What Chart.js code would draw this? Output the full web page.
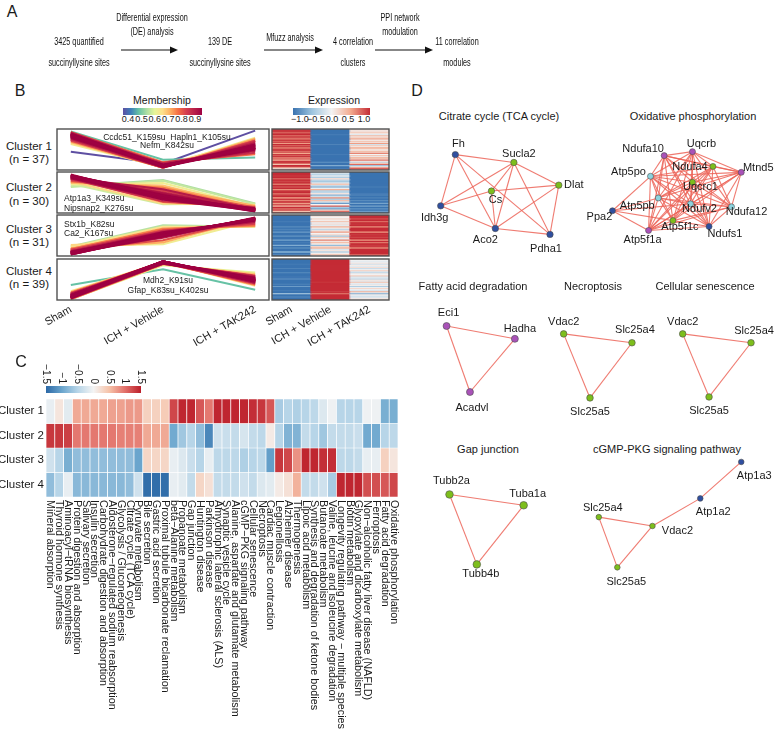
<!DOCTYPE html>
<html>
<head>
<meta charset="utf-8">
<title>Succinyllysine clusters</title>
<script src="https://cdn.jsdelivr.net/npm/chart.js@4.4.1/dist/chart.umd.min.js"></script>
<style>
  body { margin:0; width:780px; height:730px; position:relative; overflow:hidden; background:#fff;
         font-family:"Liberation Sans", Arial, sans-serif; color:#1a1a1a; }
  .t { position:absolute; white-space:nowrap; line-height:1; }
  .ctr { transform:translate(-50%,-50%); }
  .lft { transform:translate(0,-50%); }
  .letter { font-size:16px; }
  .bar { position:absolute; height:7px; }
  canvas { position:absolute; }
</style>
</head>
<body>

<!-- panel A -->
<div class="t ctr letter" style="left:12px;top:12px">A</div>
<canvas id="flow" width="500" height="80" style="left:0;top:0"></canvas>

<!-- panel B -->
<div class="t ctr letter" style="left:20px;top:91px">B</div>
<div class="t ctr" style="left:162px;top:100px;font-size:10.5px">Membership</div>
<div id="memBar" class="bar" style="left:123px;top:108px;width:79px"></div>
<div id="memLabels"></div>
<div class="t ctr" style="left:334px;top:100px;font-size:10.5px">Expression</div>
<div id="exprBar" class="bar" style="left:293px;top:108px;width:77px"></div>
<div id="exprLabels"></div>
<div id="clusterLabels"></div>

<canvas id="line1" width="240" height="45" style="left:40px;top:127px"></canvas>
<canvas id="line2" width="240" height="45" style="left:40px;top:170px"></canvas>
<canvas id="line3" width="240" height="45" style="left:40px;top:213px"></canvas>
<canvas id="line4" width="240" height="103" style="left:40px;top:257px"></canvas>
<canvas id="heat1" width="150" height="45" style="left:250px;top:127px"></canvas>
<canvas id="heat2" width="150" height="45" style="left:250px;top:170px"></canvas>
<canvas id="heat3" width="150" height="45" style="left:250px;top:213px"></canvas>
<canvas id="heat4" width="150" height="103" style="left:250px;top:257px"></canvas>

<div class="t ctr" style="left:167px;top:137px;font-size:8.5px">Ccdc51_K159su&nbsp;&nbsp;Hapln1_K105su</div>
<div class="t ctr" style="left:167px;top:145px;font-size:8.5px">Nefm_K842su</div>
<div class="t lft" style="left:64px;top:198px;font-size:8.5px">Atp1a3_K349su</div>
<div class="t lft" style="left:64px;top:208px;font-size:8.5px">Nipsnap2_K276su</div>
<div class="t lft" style="left:64px;top:224px;font-size:8.5px">Stx1b_K82su</div>
<div class="t lft" style="left:64px;top:232.5px;font-size:8.5px">Ca2_K167su</div>
<div class="t ctr" style="left:168px;top:280px;font-size:8.5px">Mdh2_K91su</div>
<div class="t ctr" style="left:168px;top:289.5px;font-size:8.5px">Gfap_K83su_K402su</div>

<!-- panel C -->
<div class="t ctr letter" style="left:21px;top:362px">C</div>
<canvas id="enrich" width="400" height="370" style="left:0;top:360px"></canvas>

<!-- panel D -->
<div class="t ctr letter" style="left:417px;top:91px">D</div>
<div id="moduleTitles"></div>
<canvas id="ppi" width="380" height="615" style="left:400px;top:85px"></canvas>

<script>
Chart.defaults.font.family = '"Liberation Sans", Arial, sans-serif';
Chart.defaults.color = '#1a1a1a';

// ---- panel A workflow steps
const flowSteps = [['3425 quantified', 'succinyllysine sites'], ['139 DE', 'succinyllysine sites'],
  ['4 correlation', 'clusters'], ['11 correlation', 'modules']];
const flowMethods = [['Differential expression', '(DE) analysis'], ['Mfuzz analysis'], ['PPI network', 'modulation']];

// ---- panel B data: standardized expression per site [Sham, ICH + Vehicle, ICH + TAK242, membership]
const conditions = ['Sham', 'ICH + Vehicle', 'ICH + TAK242'];
const clusterNames = ['Cluster 1', 'Cluster 2', 'Cluster 3', 'Cluster 4'];
const clusterSizes = [37, 30, 31, 39];

const cluster1Sites = [
  [0.95,-1.05,0.10,0.92],[1.00,-1.10,0.10,0.90],[0.80,-1.05,0.25,0.88],[0.90,-1.00,0.10,0.93],
  [1.05,-0.95,-0.10,0.85],[0.70,-1.10,0.40,0.86],[0.95,-1.05,0.10,0.94],[0.85,-1.10,0.25,0.91],
  [0.60,-1.15,0.55,0.80],[1.00,-1.00,0.00,0.89],[0.75,-1.10,0.35,0.87],[0.90,-1.05,0.15,0.95],
  [0.55,-1.10,0.55,0.78],[1.10,-0.90,-0.20,0.82],[0.80,-1.05,0.25,0.90],[0.95,-1.00,0.05,0.92],
  [0.65,-1.15,0.50,0.83],[0.85,-1.05,0.20,0.94],[1.00,-1.05,0.05,0.88],[0.70,-1.10,0.40,0.85],
  [0.90,-1.10,0.20,0.93],[0.50,-1.15,0.65,0.72],[0.95,-0.95,0.00,0.90],[0.80,-1.10,0.30,0.91],
  [1.05,-1.00,-0.05,0.86],[0.60,-1.10,0.50,0.80],[0.85,-1.00,0.15,0.94],[0.45,-1.15,0.70,0.68],
  [0.95,-1.05,0.10,0.89],[1.10,-0.80,-0.30,0.75],[0.75,-1.05,0.30,0.92],[0.35,-1.10,0.75,0.62],
  [1.15,-0.65,-0.50,0.50],[0.90,-1.00,0.10,0.90],[0.40,-1.00,0.60,0.65],[-0.15,-0.90,1.20,0.40],
  [0.80,-0.85,0.05,0.84]
];
const cluster2Sites = [
  [1.10,-0.20,-1.10,0.92],[1.00,-0.35,-1.05,0.90],[0.95,-0.10,-1.15,0.88],[1.15,-0.40,-1.00,0.85],
  [0.80,0.15,-1.10,0.80],[1.05,-0.30,-1.10,0.94],[0.90,-0.45,-1.05,0.89],[1.10,-0.15,-1.20,0.91],
  [0.70,0.30,-1.05,0.74],[1.00,-0.25,-1.15,0.93],[0.85,-0.55,-0.95,0.82],[1.05,-0.05,-1.15,0.87],
  [0.60,0.45,-1.00,0.68],[0.95,-0.35,-1.10,0.90],[1.10,-0.30,-1.20,0.92],[0.75,0.10,-0.95,0.78],
  [0.90,-0.60,-0.90,0.76],[1.00,-0.20,-1.10,0.95],[0.50,0.60,-0.90,0.62],[0.95,-0.40,-1.05,0.88],
  [0.65,0.35,-0.85,0.70],[1.05,-0.20,-1.15,0.91],[0.55,-0.75,-0.70,0.58],[0.85,0.00,-1.05,0.84],
  [0.40,0.80,-0.70,0.55],[1.10,-0.45,-1.15,0.93],[0.70,-0.70,-0.80,0.66],[0.90,0.20,-1.10,0.86],
  [0.35,0.75,-0.75,0.57],[1.00,-0.30,-1.00,0.90]
];
const cluster3Sites = [
  [-1.10,0.10,1.00,0.90],[-1.15,0.00,1.10,0.93],[-1.00,0.20,0.85,0.86],[-1.20,0.05,1.10,0.91],
  [-0.95,0.30,0.75,0.80],[-1.10,-0.05,1.10,0.94],[-1.05,0.15,0.95,0.89],[-1.15,-0.10,1.15,0.88],
  [-0.85,0.45,0.60,0.72],[-1.10,0.05,1.05,0.92],[-0.90,-0.30,1.10,0.78],[-1.20,0.10,1.05,0.90],
  [-0.75,0.55,0.55,0.64],[-1.05,0.00,1.00,0.95],[-1.15,0.15,0.95,0.87],[-0.80,-0.45,1.15,0.70],
  [-1.00,0.25,0.90,0.84],[-1.10,-0.05,1.10,0.93],[-0.70,0.65,0.55,0.56],[-1.05,0.10,1.00,0.91],
  [-0.95,0.35,0.70,0.76],[-1.20,0.05,1.10,0.89],[-0.65,-0.55,0.95,0.62],[-1.10,0.20,0.95,0.90],
  [-0.85,0.40,0.65,0.74],[-1.00,-0.15,1.10,0.85],[-1.15,0.10,1.05,0.92],[-0.60,-0.35,1.00,0.66],
  [-1.05,0.05,1.05,0.88],[-0.90,0.30,0.80,0.80],[-1.10,0.00,1.10,0.94]
];
const cluster4Sites = [
  [-1.10,1.10,0.00,0.90],[-1.15,1.15,-0.10,0.93],[-1.00,1.05,-0.05,0.88],[-1.20,1.10,0.10,0.91],
  [-0.95,1.15,-0.20,0.85],[-1.10,1.05,0.05,0.94],[-1.05,1.15,-0.10,0.89],[-1.15,1.00,0.15,0.86],
  [-0.90,1.10,-0.25,0.80],[-1.10,1.10,-0.05,0.92],[-1.20,1.05,0.20,0.84],[-1.00,1.15,-0.15,0.90],
  [-0.85,1.10,-0.30,0.76],[-1.15,1.10,0.05,0.95],[-1.05,1.05,0.00,0.91],[-1.25,1.00,0.25,0.78],
  [-0.95,1.15,-0.20,0.87],[-1.10,1.10,-0.05,0.93],[-0.80,1.10,-0.35,0.72],[-1.15,1.05,0.10,0.89],
  [-1.00,1.10,-0.10,0.92],[-1.25,0.95,0.35,0.68],[-1.10,1.15,-0.05,0.90],[-0.90,1.05,-0.15,0.85],
  [-1.15,1.10,0.05,0.94],[-0.75,1.10,-0.40,0.65],[-1.05,1.10,-0.05,0.88],[-1.20,1.00,0.20,0.82],
  [-1.10,1.15,-0.05,0.91],[-0.95,1.10,-0.15,0.86],[-1.25,0.90,0.45,0.60],[-1.05,1.15,-0.10,0.93],
  [-0.35,0.65,-0.65,0.50],[-1.10,1.05,0.05,0.90],[-1.00,1.10,-0.10,0.89],[-0.85,1.05,-0.25,0.78],
  [-1.15,1.10,0.00,0.92],[-1.20,1.05,0.15,0.87],[-1.05,1.10,-0.05,0.91]
];
const membershipTicks = [0.4, 0.5, 0.6, 0.7, 0.8, 0.9];
const expressionTicks = [-1, -0.5, 0, 0.5, 1];

// ---- panel C data: KEGG enrichment z-scores per cluster
const pathways = [
  'Mineral absorption', 'Thyroid hormone synthesis', 'Aminoacyl−tRNA biosynthesis',
  'Protein digestion and absorption', 'Salivary secretion', 'Insulin secretion',
  'Carbohydrate digestion and absorption', 'Aldosterone−regulated sodium reabsorption',
  'Glycolysis / Gluconeogenesis', 'Citrate cycle (TCA cycle)', 'Pyruvate metabolism',
  'Bile secretion', 'Gastric acid secretion', 'Proximal tubule bicarbonate reclamation',
  'beta−Alanine metabolism', 'Propanoate metabolism', 'Gap junction', 'Huntington disease',
  'Parkinson disease', 'Amyotrophic lateral sclerosis (ALS)', 'Synaptic vesicle cycle',
  'Alanine, aspartate and glutamate metabolism', 'cGMP−PKG signaling pathway',
  'Cellular senescence', 'Necroptosis', 'Cardiac muscle contraction', 'Legionellosis',
  'Alzheimer disease', 'Thermogenesis', 'Lipoic acid metabolism',
  'Synthesis and degradation of ketone bodies', 'Butanoate metabolism',
  'Valine, leucine and isoleucine degradation', 'Longevity regulating pathway − multiple species',
  'Biotin metabolism', 'Glyoxylate and dicarboxylate metabolism',
  'Non−alcoholic fatty liver disease (NAFLD)', 'Ferroptosis', 'Fatty acid degradation',
  'Oxidative phosphorylation'
];
const enrichCluster1 = [-0.1,0.15,-0.15,0.65,0.65,0.65,0.65,0.7,0.7,0.75,0.75,0.35,0.35,0.4,
  1.25,1.45,1.45,1.15,0.95,1.45,1.45,1.45,1.45,1.4,1.35,1.15,-0.6,-0.5,-0.55,-0.5,-0.45,-0.2,
  -0.05,-0.5,-0.5,-0.5,-0.05,-0.05,-0.9,-0.9];
const enrichCluster2 = [1.35,1.35,1.3,0.95,0.95,0.95,0.95,0.95,0.9,0.9,0.9,0.65,0.65,0.65,
  -0.95,-0.65,-0.5,-0.75,-1.25,-0.3,-0.35,-0.4,-0.25,-0.4,-0.45,0.1,-0.5,-0.85,-0.85,-0.4,-0.5,
  -0.65,-0.4,-0.4,-0.4,-0.35,-0.95,-0.95,-0.5,-0.45];
const enrichCluster3 = [-0.3,-0.5,-0.9,-0.75,-0.75,-0.75,-0.75,-0.75,-0.75,-0.75,-1.0,0.3,0.3,0.3,
  -0.1,-0.2,-0.35,-0.5,-0.1,-0.45,-0.45,-0.45,-0.55,-0.5,-0.45,-1.05,1.35,1.25,0.8,1.45,1.45,1.4,
  1.4,-0.45,-0.45,-0.4,-0.1,-0.1,0.35,0.15];
const enrichCluster4 = [-0.75,-0.5,-0.1,-0.8,-0.8,-0.8,-0.8,-0.8,-0.8,-0.75,-0.3,-1.45,-1.45,-1.45,
  -0.1,-0.15,-0.4,0.3,0.2,-0.4,-0.4,-0.4,-0.3,-0.4,-0.2,-0.15,0.1,0.2,0.6,-0.4,-0.4,-0.3,-0.6,
  1.45,1.45,1.45,1.2,1.2,1.15,1.25];
const enrichTicks = [-1.5, -1, -0.5, 0, 0.5, 1, 1.5];

// ---- panel D data: PPI modules, node [name, layout x, layout y, group]
const tcaNodes = [['Fh',5.2,6.6,'b'],['Sucla2',11.2,7.4,'g'],['Cs',8.9,10.3,'g'],['Dlat',15.8,9.7,'g'],
  ['Idh3g',3.7,11.8,'b'],['Aco2',9.3,14.1,'b'],['Pdha1',14.9,14.7,'b']];
const tcaEdges = [['Fh','Sucla2'],['Fh','Idh3g'],['Fh','Aco2'],['Fh','Pdha1'],['Sucla2','Idh3g'],
  ['Sucla2','Cs'],['Sucla2','Aco2'],['Sucla2','Dlat'],['Sucla2','Pdha1'],['Cs','Idh3g'],['Cs','Dlat'],
  ['Cs','Aco2'],['Idh3g','Aco2'],['Aco2','Dlat'],['Aco2','Pdha1'],['Dlat','Pdha1']];
const oxNodes = [['Uqcrb',29.5,6.3,'p'],['Ndufa10',26.6,6.7,'p'],['Ndufa4',31.6,7.8,'g'],['Mtnd5',34.5,8.4,'p'],
  ['Atp5po',25.2,8.8,'c'],['Uqcrc1',29.5,9.4,'g'],['Atp5pb',26.0,11.0,'c'],['Ndufv2',29.3,11.6,'c'],
  ['Ndufa12',33.5,11.9,'c'],['Ppa2',21.3,12.3,'b'],['Atp5f1c',27.5,13.3,'g'],['Ndufs1',31.2,13.9,'b'],
  ['Atp5f1a',25.0,14.3,'p']];
const oxCore = ['Uqcrb','Ndufa10','Ndufa4','Mtnd5','Atp5po','Uqcrc1','Atp5pb','Ndufv2','Ndufa12','Atp5f1c','Ndufs1','Atp5f1a'];
const oxEdges = [['Ppa2','Atp5po'],['Ppa2','Atp5pb'],['Ppa2','Atp5f1c'],['Ppa2','Atp5f1a'],['Ppa2','Ndufv2']];
oxCore.forEach((a, i) => oxCore.slice(i + 1).forEach(b => oxEdges.push([a, b])));
const fadNodes = [['Eci1',4.3,24.0,'p'],['Hadha',11.3,25.3,'p'],['Acadvl',6.7,30.7,'p']];
const fadEdges = [['Eci1','Hadha'],['Eci1','Acadvl'],['Hadha','Acadvl']];
const necroNodes = [['Vdac2',16.3,24.8,'g'],['Slc25a4',23.3,25.7,'g'],['Slc25a5',19.0,31.3,'g']];
const necroEdges = [['Vdac2','Slc25a4'],['Vdac2','Slc25a5'],['Slc25a4','Slc25a5']];
const senNodes = [['Vdac2',28.5,24.8,'g'],['Slc25a4',35.5,25.7,'g'],['Slc25a5',31.2,31.2,'g']];
const senEdges = [['Vdac2','Slc25a4'],['Vdac2','Slc25a5'],['Slc25a4','Slc25a5']];
const gapNodes = [['Tubb2a',4.6,41.1,'g'],['Tuba1a',12.2,42.2,'g'],['Tubb4b',7.4,48.2,'g']];
const gapEdges = [['Tubb2a','Tuba1a'],['Tubb2a','Tubb4b'],['Tuba1a','Tubb4b']];
const cgmpNodes = [['Atp1a3',34.5,37.8,'b'],['Atp1a2',30.3,41.5,'b'],['Vdac2',25.4,44.3,'g'],
  ['Slc25a4',19.9,43.4,'g'],['Slc25a5',21.8,48.5,'g']];
const cgmpEdges = [['Atp1a3','Atp1a2'],['Atp1a2','Vdac2'],['Vdac2','Slc25a4'],['Vdac2','Slc25a5'],['Slc25a4','Slc25a5']];
const moduleNames = ['Citrate cycle (TCA cycle)','Oxidative phosphorylation','Fatty acid degradation',
  'Necroptosis','Cellular senescence','Gap junction','cGMP-PKG signaling pathway'];

// ---- styles
const memStops = [[0.4,'#5e4fa2'],[0.45,'#3d7fb9'],[0.5,'#66c2a5'],[0.55,'#abdda4'],[0.6,'#e6f598'],
  [0.65,'#fee08b'],[0.7,'#fdae61'],[0.75,'#f46d43'],[0.8,'#d53e4f'],[0.9,'#9e0142']];
const exprStops = [[-1,'#3a73b0'],[-0.5,'#9ec5df'],[0,'#f3f3f3'],[0.5,'#f3aa8e'],[1,'#c42b35']];
const enrichStops = [[-1.5,'#2b68a6'],[-1,'#6aa5cd'],[-0.5,'#b7d5e8'],[0,'#f4f4f4'],[0.5,'#f6c2a8'],[1,'#e2706a'],[1.5,'#bb1e2a']];
const nodeColors = { b:'#2f4fa0', g:'#7dbe1c', p:'#a952b8', c:'#8dd3de' };

function hexRgb(h) { return [1, 3, 5].map(i => parseInt(h.substr(i, 2), 16)); }
function scaleColor(stops, v) {
  if (v <= stops[0][0]) return stops[0][1];
  for (let i = 1; i < stops.length; i++) {
    if (v <= stops[i][0]) {
      const t = (v - stops[i-1][0]) / (stops[i][0] - stops[i-1][0]);
      const a = hexRgb(stops[i-1][1]), b = hexRgb(stops[i][1]);
      return 'rgb(' + a.map((x, k) => Math.round(x + (b[k] - x) * t)).join(',') + ')';
    }
  }
  return stops[stops.length - 1][1];
}
function cssGradient(stops) {
  const lo = stops[0][0], hi = stops[stops.length - 1][0];
  return 'linear-gradient(to right,' + stops.map(s => s[1] + ' ' + ((s[0] - lo) / (hi - lo) * 100) + '%').join(',') + ')';
}

// ---- panel A: condensed workflow text drawn on a canvas
(function drawFlow() {
  const ctx = document.getElementById('flow').getContext('2d');
  const stepX = [79, 220, 353, 457], methodX = [152, 290, 400];
  const arrows = [[121, 178], [264, 323], [375, 433]];
  ctx.fillStyle = '#111';
  ctx.font = '11.5px "Liberation Sans", Arial, sans-serif';
  ctx.textAlign = 'center';
  ctx.textBaseline = 'middle';
  function put(txt, x, y) {
    ctx.save(); ctx.translate(x, y); ctx.scale(0.63, 1); ctx.fillText(txt, 0, 0); ctx.restore();
  }
  flowSteps.forEach((s, i) => { put(s[0], stepX[i], 42); put(s[1], stepX[i], 63); });
  flowMethods.forEach((m, i) => {
    if (m.length === 1) put(m[0], methodX[i], 38);
    else { put(m[0], methodX[i], 18); put(m[1], methodX[i], 32); }
  });
  ctx.strokeStyle = '#111';
  ctx.lineWidth = 1.2;
  arrows.forEach(([a, b]) => {
    ctx.beginPath(); ctx.moveTo(a, 50); ctx.lineTo(b - 6, 50); ctx.stroke();
    ctx.beginPath(); ctx.moveTo(b, 50); ctx.lineTo(b - 8, 46.5); ctx.lineTo(b - 8, 53.5); ctx.closePath(); ctx.fill();
  });
})();

// legends for panel B
document.getElementById('memBar').style.background = cssGradient(memStops);
document.getElementById('exprBar').style.background = cssGradient(exprStops);
let html = '';
membershipTicks.forEach(v => {
  html += `<div class="t ctr" style="left:${128 + (v - 0.4) * 134}px;top:119px;font-size:9px">${v.toFixed(1)}</div>`;
});
document.getElementById('memLabels').innerHTML = html;
html = '';
expressionTicks.forEach(v => {
  html += `<div class="t ctr" style="left:${332 + v * 32}px;top:119px;font-size:9px">${v.toFixed(1).replace('-', '−')}</div>`;
});
document.getElementById('exprLabels').innerHTML = html;
html = '';
const clusterLabelY = [[147, 160], [188, 202], [230, 243], [272, 285]];
clusterNames.forEach((c, i) => {
  html += `<div class="t ctr" style="left:29px;top:${clusterLabelY[i][0]}px;font-size:11.5px">${c}</div>`;
  html += `<div class="t ctr" style="left:29px;top:${clusterLabelY[i][1]}px;font-size:11.5px">(n = ${clusterSizes[i]})</div>`;
});
document.getElementById('clusterLabels').innerHTML = html;

const boxBorder = {
  id: 'boxBorder',
  afterDraw(chart) {
    const { ctx, chartArea: a } = chart;
    ctx.save();
    ctx.strokeStyle = '#505050';
    ctx.lineWidth = 1.4;
    ctx.strokeRect(a.left, a.top, a.right - a.left, a.bottom - a.top);
    ctx.restore();
  }
};

function conditionAxis(show, extra) {
  if (!show) return Object.assign({ display: false }, extra);
  return Object.assign({
    display: true,
    grid: { display: false, drawTicks: false },
    border: { display: false },
    afterFit: s => { s.height = 60; s.paddingLeft = 0; s.paddingRight = 0; },
    ticks: { autoSkip: false, maxRotation: 30, minRotation: 30, padding: 3, font: { size: 11 }, color: '#1a1a1a' }
  }, extra);
}

const allSites = [cluster1Sites, cluster2Sites, cluster3Sites, cluster4Sites];

allSites.forEach((sites, k) => {
  const last = k === 3;
  // membership lines, strongest members drawn on top
  const sorted = sites.slice().sort((a, b) => b[3] - a[3]);
  const lineX = conditionAxis(last, {
    type: 'linear', min: -0.15, max: 2.15,
    afterBuildTicks: s => { s.ticks = conditions.map((c, i) => ({ value: i })); }
  });
  if (last) lineX.ticks.callback = (v, i) => conditions[i];
  new Chart(document.getElementById('line' + (k + 1)), {
    type: 'line',
    data: {
      datasets: sorted.map(s => ({
        data: [{ x: 0, y: s[0] }, { x: 1, y: s[1] }, { x: 2, y: s[2] }],
        borderColor: scaleColor(memStops, s[3]),
        borderWidth: 2,
        pointRadius: 0,
        tension: 0
      }))
    },
    options: {
      responsive: false, animation: false, events: [],
      layout: { padding: { left: 17, right: 11, top: 2, bottom: last ? 0 : 2 } },
      plugins: { legend: { display: false }, tooltip: { enabled: false } },
      scales: { x: lineX, y: { min: -1.3, max: 1.3, display: false } }
    },
    plugins: [boxBorder]
  });

  // expression heatmap, one stacked row per site
  new Chart(document.getElementById('heat' + (k + 1)), {
    type: 'bar',
    data: {
      labels: conditions,
      datasets: sites.map(s => ({
        data: [1, 1, 1],
        backgroundColor: s.slice(0, 3).map(v => scaleColor(exprStops, v)),
        borderWidth: 0,
        inflateAmount: 0.6,
        barPercentage: 1,
        categoryPercentage: 1
      }))
    },
    options: {
      responsive: false, animation: false, events: [],
      layout: { padding: { left: 22, right: 11, top: 2, bottom: last ? 0 : 2 } },
      plugins: { legend: { display: false }, tooltip: { enabled: false } },
      scales: {
        x: conditionAxis(last, { stacked: true }),
        y: { stacked: true, min: 0, max: sites.length, reverse: true, display: false }
      }
    },
    plugins: [boxBorder]
  });
});

// ---- panel C heatmap
const enrichRows = [enrichCluster1, enrichCluster2, enrichCluster3, enrichCluster4];
const enrichDecor = {
  id: 'enrichDecor',
  afterDraw(chart) {
    const { ctx, chartArea: a, scales: { x } } = chart;
    ctx.save();
    ctx.fillStyle = '#1a1a1a';
    ctx.font = '10.8px "Liberation Sans", Arial, sans-serif';
    ctx.textAlign = 'left';
    ctx.textBaseline = 'middle';
    pathways.forEach((p, i) => {
      ctx.save();
      ctx.translate(x.getPixelForValue(i), a.bottom + 3);
      ctx.rotate(Math.PI / 2);
      ctx.fillText(p, 0, 0);
      ctx.restore();
    });
    // colour key
    const kx0 = 46, kx1 = 141, ky = 26;
    const g = ctx.createLinearGradient(kx0, 0, kx1, 0);
    enrichStops.forEach(s => g.addColorStop((s[0] + 1.5) / 3, s[1]));
    ctx.fillStyle = g;
    ctx.fillRect(kx0, ky, kx1 - kx0, 7);
    ctx.fillStyle = '#1a1a1a';
    ctx.font = '10px "Liberation Sans", Arial, sans-serif';
    ctx.textAlign = 'right';
    enrichTicks.forEach(v => {
      ctx.save();
      ctx.translate(kx0 + (v + 1.5) / 3 * (kx1 - kx0), ky - 2);
      ctx.rotate(Math.PI / 2);
      ctx.fillText(String(v).replace('-', '−'), 0, 0);
      ctx.restore();
    });
    ctx.restore();
  }
};
new Chart(document.getElementById('enrich'), {
  type: 'bar',
  data: {
    labels: pathways,
    datasets: enrichRows.map((row, r) => ({
      label: clusterNames[r],
      data: row.map(() => 1),
      backgroundColor: row.map(v => scaleColor(enrichStops, v)),
      borderColor: '#ffffff',
      borderWidth: 0.7,
      borderSkipped: false,
      barPercentage: 1,
      categoryPercentage: 1
    }))
  },
  options: {
    responsive: false, animation: false, events: [],
    layout: { padding: { left: 0, right: 2, top: 39, bottom: 233 } },
    plugins: { legend: { display: false }, tooltip: { enabled: false } },
    scales: {
      x: { stacked: true, display: false },
      y: {
        stacked: true, min: 0, max: 4, reverse: true,
        grid: { display: false, drawTicks: false }, border: { display: false },
        afterFit: s => { s.width = 46; },
        afterBuildTicks: s => { s.ticks = clusterNames.map((c, i) => ({ value: i + 0.5 })); },
        ticks: { callback: (v, i) => clusterNames[i], font: { size: 11.5 }, color: '#1a1a1a', padding: 2 }
      }
    }
  },
  plugins: [enrichDecor]
});

// ---- panel D networks
const modules = [
  { nodes: tcaNodes, edges: tcaEdges, r: 3.2, title: [99, 31],
    shift: [[3,-11],[5,-9],[4,9],[15,0],[-6,12],[-10,11],[-4,15]] },
  { nodes: oxNodes, edges: oxEdges, r: 3, title: [293, 31],
    shift: [[9,-8],[-21,-7],[-23,1],[17,-4],[-22,-4],[8,5],[-21,8],[9,5],[15,5],[-13,6],[7,6],[16,7],[-6,10]] },
  { nodes: fadNodes, edges: fadEdges, r: 3.5, title: [73, 201], shift: [[2,-13],[5,-10],[2,16]] },
  { nodes: necroNodes, edges: necroEdges, r: 3.3, title: [193, 201], shift: [[0,-12],[3,-13],[0,14]] },
  { nodes: senNodes, edges: senEdges, r: 3.3, title: [305, 201], shift: [[0,-12],[3,-12],[0,14]] },
  { nodes: gapNodes, edges: gapEdges, r: 3.8, title: [88, 364], shift: [[2,-13],[4,-11],[4,10]] },
  { nodes: cgmpNodes, edges: cgmpEdges, r: 2.8, title: [267, 364], shift: [[13,14],[13,14],[25,5],[4,-9],[9,15]] }
];

html = '';
modules.forEach((m, i) => {
  html += `<div class="t ctr" style="left:${400 + m.title[0]}px;top:${85 + m.title[1]}px;font-size:11px">${moduleNames[i]}</div>`;
});
document.getElementById('moduleTitles').innerHTML = html;

const ppiSets = [];
modules.forEach(m => {
  ppiSets.push({
    data: m.nodes.map(n => ({ x: n[1], y: n[2] })),
    pointRadius: m.r,
    pointBackgroundColor: m.nodes.map(n => nodeColors[n[3]]),
    pointBorderColor: '#4d4d4d',
    pointBorderWidth: 0.6,
    order: 0
  });
});
modules.forEach(m => {
  const pos = {};
  m.nodes.forEach(n => { pos[n[0]] = { x: n[1], y: n[2] }; });
  m.edges.forEach(e => {
    ppiSets.push({
      data: [pos[e[0]], pos[e[1]]],
      showLine: true,
      borderColor: 'rgba(236,100,88,0.85)',
      borderWidth: 1.1,
      pointRadius: 0,
      order: 1
    });
  });
});

const nodeLabels = {
  id: 'nodeLabels',
  afterDatasetsDraw(chart) {
    const { ctx, scales: { x, y } } = chart;
    ctx.save();
    ctx.fillStyle = '#1a1a1a';
    ctx.font = '11px "Liberation Sans", Arial, sans-serif';
    ctx.textAlign = 'center';
    ctx.textBaseline = 'middle';
    modules.forEach(m => {
      m.nodes.forEach((n, i) => {
        ctx.fillText(n[0], x.getPixelForValue(n[1]) + m.shift[i][0], y.getPixelForValue(n[2]) + m.shift[i][1]);
      });
    });
    ctx.restore();
  }
};

new Chart(document.getElementById('ppi'), {
  type: 'scatter',
  data: { datasets: ppiSets },
  options: {
    responsive: false, animation: false, events: [],
    layout: { padding: 0 },
    plugins: { legend: { display: false }, tooltip: { enabled: false } },
    scales: {
      x: { min: 0, max: 38, display: false },
      y: { min: 0, max: 61.5, reverse: true, display: false }
    }
  },
  plugins: [nodeLabels]
});
</script>
</body>
</html>
